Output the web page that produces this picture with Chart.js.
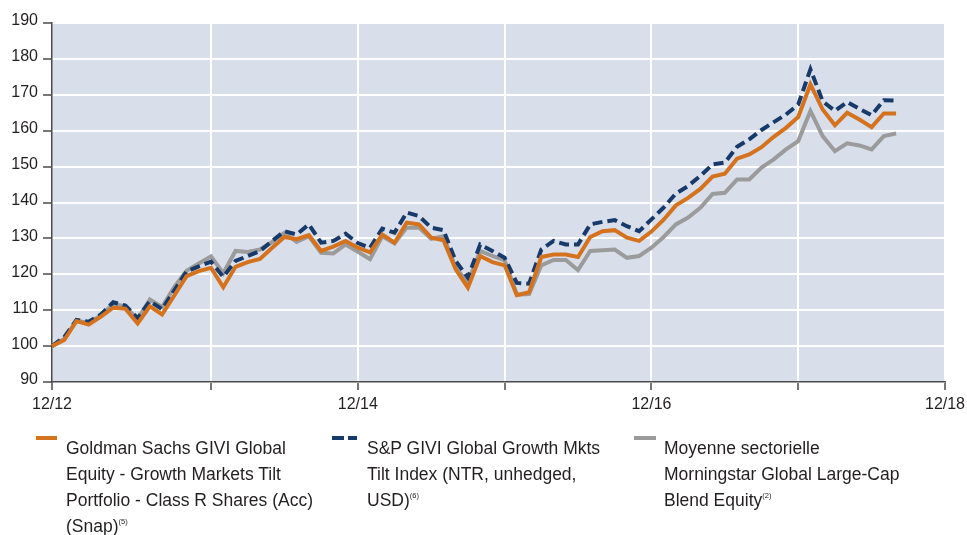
<!DOCTYPE html>
<html>
<head>
<meta charset="utf-8">
<script src="https://cdn.jsdelivr.net/npm/chart.js@4/dist/chart.umd.min.js"></script>
<style>
  html, body { margin: 0; padding: 0; background: #fff; }
  #wrap { position: relative; width: 967px; height: 535px; overflow: hidden; }
  canvas { position: absolute; left: 0; top: 0; }
  .mk { position: absolute; height: 4px; }
  .lg { position: absolute; font-family: "Liberation Sans", Arial, sans-serif; font-size: 17.5px; line-height: 26px; color: #231f20; white-space: nowrap; }
  .lg sup { font-size: 7.5px; vertical-align: 8px; line-height: 0; }
</style>
</head>
<body>
<div id="wrap">
  <canvas id="c" width="967" height="535"></canvas>
  <div class="mk" style="left:36px;top:436px;width:21px;background:#d4721e;"></div>
  <div class="lg" style="left:66px;top:435px;">Goldman Sachs GIVI Global<br>Equity - Growth Markets Tilt<br>Portfolio - Class R Shares (Acc)<br>(Snap)<sup>(5)</sup></div>
  <div class="mk" style="left:332px;top:436px;width:12px;background:#173a6b;"></div>
  <div class="mk" style="left:348px;top:436px;width:9px;background:#173a6b;"></div>
  <div class="lg" style="left:367px;top:435px;">S&amp;P GIVI Global Growth Mkts<br>Tilt Index (NTR, unhedged,<br>USD)<sup>(6)</sup></div>
  <div class="mk" style="left:634px;top:436px;width:22px;background:#9b9b9b;"></div>
  <div class="lg" style="left:664px;top:435px;">Moyenne sectorielle<br>Morningstar Global Large-Cap<br>Blend Equity<sup>(2)</sup></div>
</div>
<script>
// Month-end categories: start value (end 11/12) through 12/18
const months = [
  "11/12",
  "12/12","01/13","02/13","03/13","04/13","05/13","06/13","07/13","08/13","09/13","10/13","11/13",
  "12/13","01/14","02/14","03/14","04/14","05/14","06/14","07/14","08/14","09/14","10/14","11/14",
  "12/14","01/15","02/15","03/15","04/15","05/15","06/15","07/15","08/15","09/15","10/15","11/15",
  "12/15","01/16","02/16","03/16","04/16","05/16","06/16","07/16","08/16","09/16","10/16","11/16",
  "12/16","01/17","02/17","03/17","04/17","05/17","06/17","07/17","08/17","09/17","10/17","11/17",
  "12/17","01/18","02/18","03/18","04/18","05/18","06/18","07/18","08/18","09/18","10/18","11/18",
  "12/18"
];
// category -> displayed axis label
const tickLabels = { "11/12": "12/12", "12/14": "12/14", "12/16": "12/16", "12/18": "12/18" };
const yearEnds = ["12/13", "12/14", "12/15", "12/16", "12/17", "12/18"];

const fundSeries = [
  100.0,101.7,107.0,106.0,108.2,110.7,110.4,106.3,111.1,108.8,114.1,119.5,
  120.9,121.8,116.4,122.1,123.4,124.3,127.4,130.4,129.8,130.9,126.5,127.7,
  129.3,127.4,126.1,131.1,128.8,134.4,133.9,130.2,129.5,121.4,116.3,125.1,
  123.4,122.5,114.2,115.0,124.8,125.5,125.5,124.8,130.4,132.0,132.3,130.2,
  129.3,131.9,135.2,139.2,141.3,143.8,147.2,148.0,152.2,153.4,155.4,158.3,
  160.8,163.8,172.9,165.9,161.5,165.0,163.1,161.0,164.8,164.8
];
const indexSeries = [
  100.0,102.5,107.3,106.8,108.8,112.2,111.3,107.8,112.5,110.3,115.5,120.8,
  122.2,123.5,119.3,123.7,125.1,126.5,129.3,132.0,131.1,133.9,128.8,129.3,
  131.3,128.7,127.4,132.7,131.6,137.2,136.2,133.0,132.3,123.7,119.1,128.3,
  126.5,124.6,117.6,117.4,126.9,129.3,128.3,128.3,133.9,134.6,135.1,133.4,
  132.0,135.3,138.6,142.5,144.6,147.4,150.6,151.1,155.5,157.6,160.2,162.4,
  164.5,167.3,177.1,168.2,165.5,168.0,166.1,164.3,168.5,168.4
];
const peerSeries = [
  100.0,102.0,107.0,106.5,108.5,111.8,111.0,107.5,113.0,110.9,116.5,121.0,
  123.0,125.0,120.3,126.5,126.2,126.9,129.0,131.6,129.0,130.6,126.0,125.8,
  128.3,126.3,124.2,130.6,128.6,133.0,133.0,129.9,130.6,121.8,117.7,126.5,
  125.1,123.9,114.3,114.5,122.5,124.0,124.0,121.2,126.5,126.7,126.9,124.6,
  125.1,127.4,130.4,133.9,135.8,138.5,142.4,142.7,146.4,146.4,149.7,152.0,
  154.8,157.1,165.5,158.5,154.3,156.5,155.9,154.8,158.5,159.2
];
const seriesNames = [
  "Goldman Sachs GIVI Global Equity - Growth Markets Tilt Portfolio - Class R Shares (Acc) (Snap)",
  "S&P GIVI Global Growth Mkts Tilt Index (NTR, unhedged, USD)",
  "Moyenne sectorielle Morningstar Global Large-Cap Blend Equity"
];

const FONT = '"Liberation Sans", Arial, sans-serif';
const AXIS = '#4a4a4a';
const CLEAR = 'rgba(0,0,0,0)';

const bgPlugin = {
  id: 'plotBg',
  beforeDraw(chart) {
    const a = chart.chartArea, ctx = chart.ctx;
    ctx.save();
    ctx.fillStyle = '#d9dfea';
    ctx.fillRect(a.left, a.top, a.right - a.left, a.bottom - a.top);
    ctx.restore();
  }
};

new Chart(document.getElementById('c'), {
  type: 'line',
  data: {
    labels: months,
    datasets: [
      { label: seriesNames[0], data: fundSeries, borderColor: '#d4721e', borderWidth: 4, pointRadius: 0, tension: 0, borderJoinStyle: 'miter', fill: false },
      { label: seriesNames[1], data: indexSeries, borderColor: '#173a6b', borderWidth: 4, borderDash: [10, 5], pointRadius: 0, tension: 0, borderJoinStyle: 'miter', fill: false },
      { label: seriesNames[2], data: peerSeries, borderColor: '#9b9b9b', borderWidth: 4, pointRadius: 0, tension: 0, borderJoinStyle: 'miter', fill: false }
    ]
  },
  options: {
    responsive: false,
    animation: false,
    devicePixelRatio: 1,
    layout: { padding: { top: 23, right: 22, left: 0, bottom: 0 } },
    plugins: { legend: { display: false }, tooltip: { enabled: false }, title: { display: false } },
    scales: {
      x: {
        type: 'category',
        offset: false,
        afterFit(s) { s.height = 153; s.paddingLeft = 0; s.paddingRight = 0; },
        grid: {
          color: c => yearEnds.includes(months[c.index]) ? '#ffffff' : CLEAR,
          lineWidth: 2,
          tickColor: c => (c.index === 0 || yearEnds.includes(months[c.index])) ? AXIS : CLEAR,
          tickLength: 8,
          tickWidth: 1.5
        },
        border: { display: true, color: AXIS, width: 1.5 },
        ticks: {
          autoSkip: false,
          maxRotation: 0,
          minRotation: 0,
          padding: 5,
          color: '#231f20',
          font: { family: FONT, size: 16 },
          callback: function(v, i) {
            return tickLabels[months[i]] || '';
          }
        }
      },
      y: {
        min: 90,
        max: 190,
        afterFit(s) { s.width = 52; },
        grid: {
          color: '#ffffff',
          lineWidth: 2,
          tickColor: AXIS,
          tickLength: 9,
          tickWidth: 1.5
        },
        border: { display: true, color: AXIS, width: 1.5 },
        ticks: {
          stepSize: 10,
          padding: 5,
          labelOffset: -2,
          color: '#231f20',
          font: { family: FONT, size: 16 }
        }
      }
    }
  },
  plugins: [bgPlugin]
});
</script>
</body>
</html>
